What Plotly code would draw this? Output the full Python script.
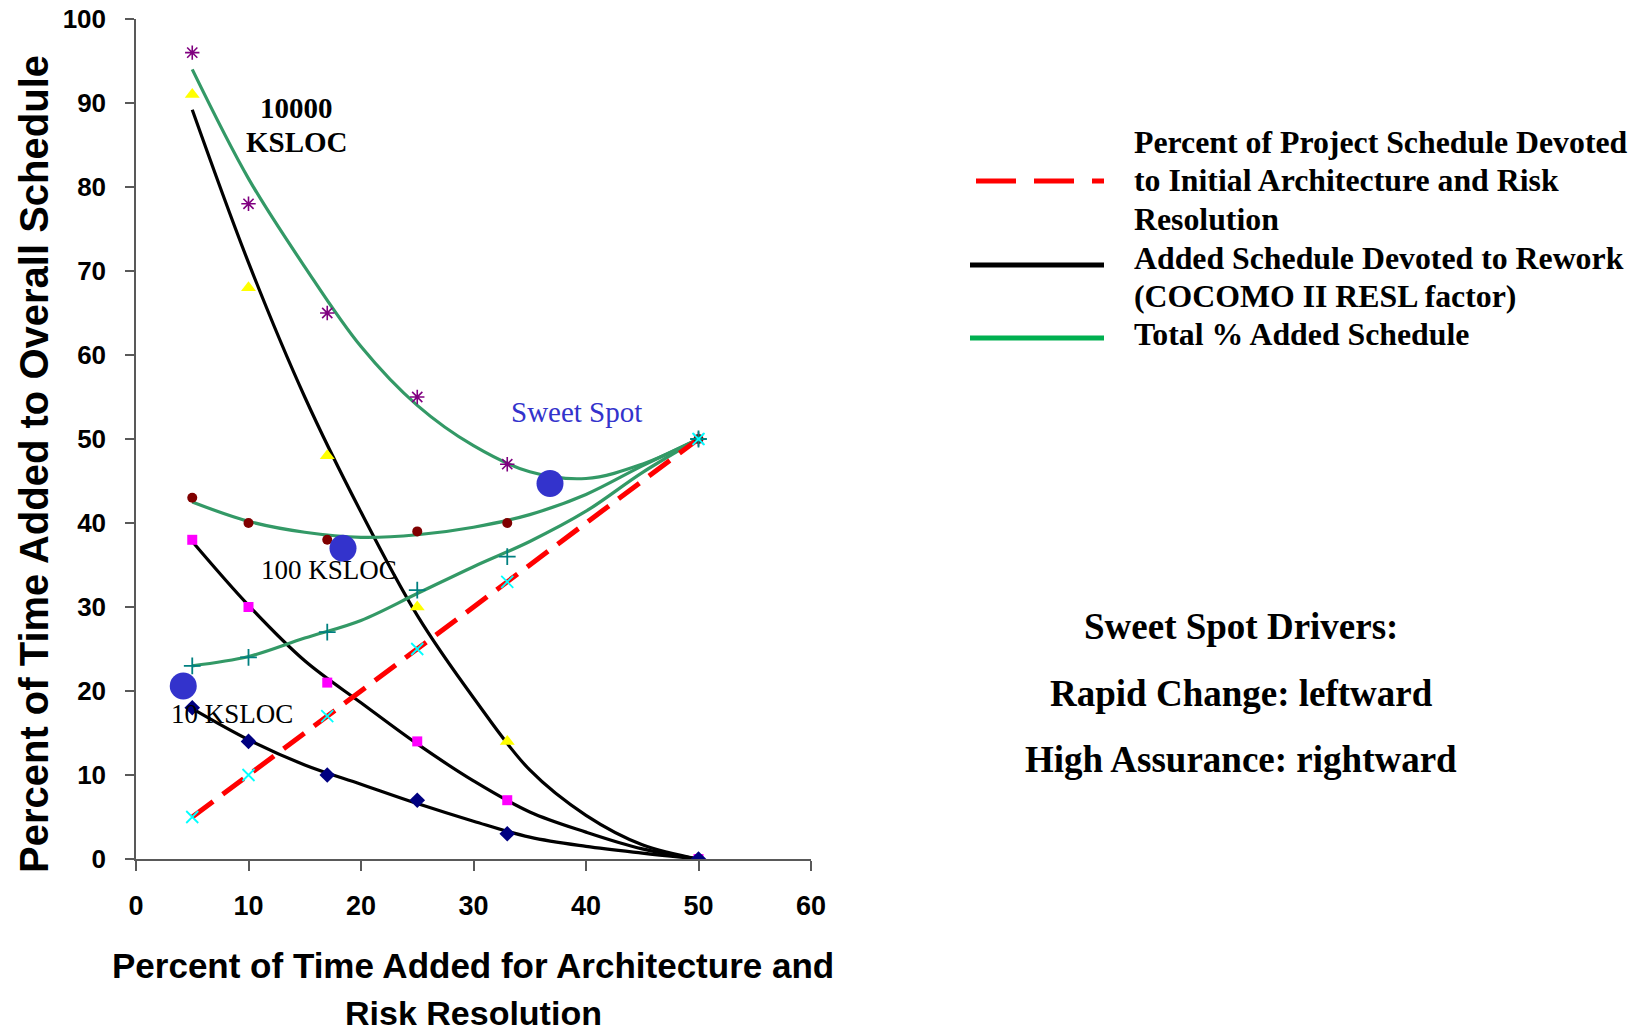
import plotly.graph_objects as go

# ---- data ----
x_pts = [5, 10, 17, 25, 33, 50]
arch_pct = [5, 10, 17, 25, 33, 50]
rework_10 = [18, 14, 10, 7, 3, 0]
total_10 = [23, 24, 27, 32, 36, 50]
rework_100 = [38, 30, 21, 14, 7, 0]
total_100 = [43, 40, 38, 39, 40, 50]
rework_10000 = [91, 68, 48, 30, 14, 0]
total_10000 = [96, 78, 65, 55, 47, 50]

# smoothed trend curves as drawn in the reference
x_fit = [5, 10, 15, 20, 25, 30, 35, 40, 45, 50]
fit_rework_10 = [17.9, 14.2, 11.2, 8.9, 6.6, 4.5, 2.6, 1.5, 0.7, 0]
fit_total_10 = [23, 24.1, 26.3, 28.4, 31.6, 34.8, 37.8, 41.4, 46, 50]
fit_rework_100 = [37.8, 30.2, 23.6, 18.6, 13.7, 9.3, 5.6, 3.2, 1.2, 0]
fit_total_100 = [42.5, 40.2, 38.9, 38.3, 38.6, 39.5, 41, 43.4, 46.8, 50]
fit_rework_10000 = [89.2, 71, 55, 41.3, 29, 19.2, 10.6, 5.2, 1.7, 0]
fit_total_10000 = [94, 81, 70.5, 61, 54, 49.2, 46.1, 45.3, 47, 50]
arch_line_x = [5, 50]
arch_line_y = [5, 50]

sweet_x = [4.2, 18.4, 36.8]
sweet_y = [20.6, 37.0, 44.7]

x_ticks = [0, 10, 20, 30, 40, 50, 60]
y_ticks = [0, 10, 20, 30, 40, 50, 60, 70, 80, 90, 100]

# the page's body margin is removed (post_script), so the figure fills the window
OFF = 0
W, H = 1649 - OFF, 1035 - OFF
L, T = 136 - OFF, 19 - OFF
PW, PH = 675, 840
R, B = W - L - PW, H - T - PH

def px(xw):
    return (xw - OFF - L) / PW

def py(yw):
    return (T + PH - (yw - OFF)) / PH

SERIF = "Liberation Serif, Times New Roman, serif"
SANS = "Liberation Sans, Arial, sans-serif"
GREEN = "#339966"

fig = go.Figure()

# trend curves
for xs, ys, col in [
    (x_fit, fit_rework_10, "black"),
    (x_fit, fit_rework_100, "black"),
    (x_fit, fit_rework_10000, "black"),
    (x_fit, fit_total_10, GREEN),
    (x_fit, fit_total_100, GREEN),
    (x_fit, fit_total_10000, GREEN),
]:
    fig.add_trace(go.Scatter(x=xs, y=ys, mode="lines",
                             line=dict(color=col, width=3.2, shape="spline", smoothing=1.0),
                             showlegend=False, hoverinfo="skip"))

fig.add_trace(go.Scatter(x=arch_line_x, y=arch_line_y, mode="lines",
                         line=dict(color="#FF0000", width=5, dash="26px,12px"),
                         showlegend=False))

# markers
markers = [
    (rework_10000, "triangle-up", "#FFFF00", 13, None),
    (total_10000, "asterisk-open", "#800080", 12, 1.6),
    (rework_100, "square", "#FF00FF", 10, None),
    (total_100, "circle", "#800000", 10, None),
    (rework_10, "diamond", "#000080", 12, None),
    (total_10, "cross-thin-open", "#008080", 12, 1.8),
    (arch_pct, "x-thin-open", "#00FFFF", 12, 1.8),
]
for ys, sym, col, size, lw in markers:
    mk = dict(symbol=sym, color=col, size=size)
    if lw:
        mk["line"] = dict(color=col, width=lw)
    else:
        mk["line"] = dict(width=0)
    fig.add_trace(go.Scatter(x=x_pts, y=ys, mode="markers", marker=mk, showlegend=False))

fig.add_trace(go.Scatter(x=sweet_x, y=sweet_y, mode="markers",
                         marker=dict(symbol="circle", color="#3333CC", size=27, line=dict(width=0)),
                         showlegend=False))

ann = []
# in-plot labels
ann.append(dict(x=px(296.6), y=py(108), text="<b>10000</b>", font=dict(family=SERIF, size=29, color="black")))
ann.append(dict(x=px(296.6), y=py(142), text="<b>KSLOC</b>", font=dict(family=SERIF, size=29, color="black")))
ann.append(dict(x=px(328.5), y=py(570), text="100 KSLOC", font=dict(family=SERIF, size=27, color="black")))
ann.append(dict(x=px(232), y=py(714), text="10 KSLOC", font=dict(family=SERIF, size=27, color="black")))
ann.append(dict(x=px(576), y=py(412), text="Sweet Spot", font=dict(family=SERIF, size=29, color="#3333CC")))

# legend text lines
leg_lines = [
    ("Percent of Project Schedule Devoted", 142),
    ("to Initial Architecture and Risk", 181),
    ("Resolution", 219),
    ("Added Schedule Devoted to Rework", 258),
    ("(COCOMO II RESL factor)", 296),
    ("Total % Added Schedule", 334),
]
for txt, yy in leg_lines:
    ann.append(dict(x=px(1132), y=py(yy), text="<b>" + txt + "</b>", xanchor="left",
                    font=dict(family=SERIF, size=31.8, color="black")))

# drivers text
for txt, yy in [("Sweet Spot Drivers:", 626), ("Rapid Change: leftward", 693),
                ("High Assurance: rightward", 759)]:
    ann.append(dict(x=px(1241), y=py(yy), text="<b>" + txt + "</b>",
                    font=dict(family=SERIF, size=37, color="black")))

# axis titles
ann.append(dict(x=px(473), y=py(965), text="<b>Percent of Time Added for Architecture and</b>",
                font=dict(family=SANS, size=35, color="black")))
ann.append(dict(x=px(473), y=py(1013), text="<b>Risk Resolution</b>",
                font=dict(family=SANS, size=34, color="black")))
ann.append(dict(x=px(34), y=py(464), text="<b>Percent of Time Added to Overall Schedule</b>", textangle=-90,
                font=dict(family=SANS, size=40, color="black")))

for a in ann:
    a.setdefault("xref", "paper")
    a.setdefault("yref", "paper")
    a.setdefault("showarrow", False)
    a.setdefault("xanchor", "center")
    a.setdefault("yanchor", "middle")
fig.update_layout(annotations=ann)

# legend sample lines
fig.add_shape(type="line", xref="paper", yref="paper", x0=px(976), x1=px(1104), y0=py(181), y1=py(181),
              line=dict(color="#FF0000", width=5, dash="40px,18px"))
fig.add_shape(type="line", xref="paper", yref="paper", x0=px(970), x1=px(1104), y0=py(265), y1=py(265),
              line=dict(color="black", width=5))
fig.add_shape(type="line", xref="paper", yref="paper", x0=px(970), x1=px(1104), y0=py(338), y1=py(338),
              line=dict(color="#00B050", width=5))

fig.update_xaxes(range=[0, 60], tickvals=x_ticks, ticktext=[str(v) for v in x_ticks],
                 showgrid=False, zeroline=False, showline=True, linecolor="#595959", linewidth=1.5,
                 ticks="outside", ticklen=10, tickwidth=1.5, tickcolor="#595959",
                 tickfont=dict(family=SANS, size=27, color="black", weight="bold"),
                 ticklabelstandoff=12, ticklabeloverflow="allow")
fig.update_yaxes(range=[0, 100], tickvals=y_ticks, ticktext=[str(v) for v in y_ticks],
                 showgrid=False, zeroline=False, showline=True, linecolor="#595959", linewidth=1.5,
                 ticks="outside", ticklen=9, tickwidth=1.5, tickcolor="#595959",
                 tickfont=dict(family=SANS, size=26, color="black", weight="bold"),
                 ticklabelstandoff=14, ticklabeloverflow="allow")

fig.update_layout(width=W, height=H, margin=dict(l=L, r=R, t=T, b=B, autoexpand=False),
                  plot_bgcolor="white", paper_bgcolor="white", showlegend=False)

fig.write_html("out.html", config={"displayModeBar": False},
               post_script="document.body.style.margin='0';document.body.style.overflow='hidden';")
